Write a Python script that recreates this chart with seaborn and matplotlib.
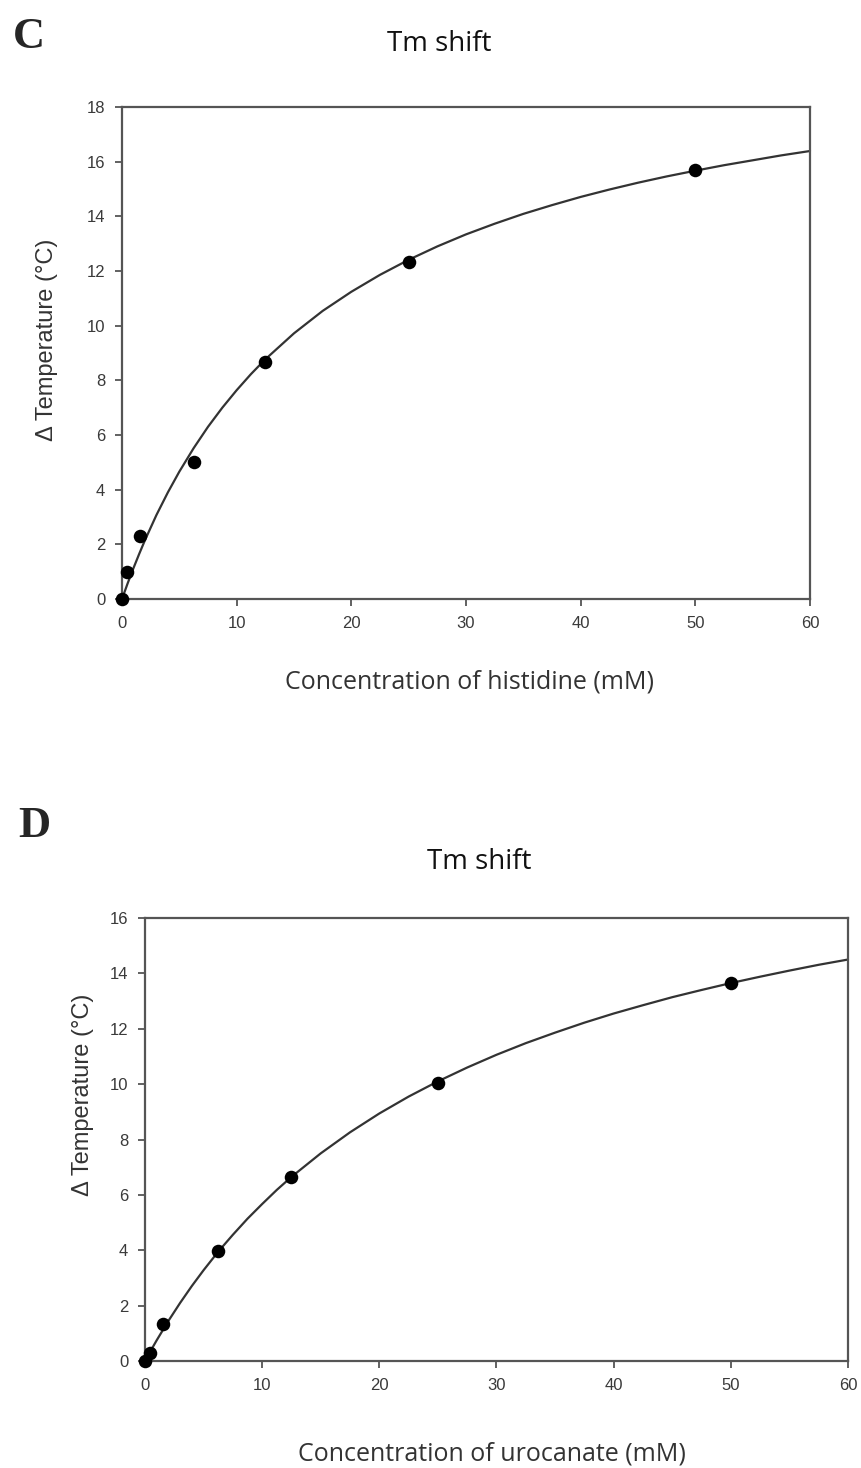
import matplotlib
matplotlib.use("Agg")
import matplotlib.pyplot as plt
import seaborn as sns

# ---------------- data ----------------
conc = [0, 0.4, 1.56, 6.25, 12.5, 25, 50]
dT_histidine = [0, 1.0, 2.3, 5.0, 8.67, 12.33, 15.7]
dT_urocanate = [0, 0.29, 1.34, 3.98, 6.66, 10.03, 13.65]

fit_x = [0, 0.5, 1, 1.5, 2, 3, 4, 5, 6.25, 7.5, 8.75, 10, 11.25, 12.5, 15, 17.5, 20,
         22.5, 25, 27.5, 30, 32.5, 35, 37.5, 40, 42.5, 45, 47.5, 50, 52.5, 55, 57.5, 60]
fit_histidine = [0, 0.58, 1.13, 1.65, 2.15, 3.07, 3.90, 4.66, 5.52, 6.30, 7.00, 7.64, 8.23,
                 8.77, 9.72, 10.54, 11.24, 11.86, 12.41, 12.90, 13.34, 13.73, 14.09, 14.41,
                 14.71, 14.98, 15.23, 15.46, 15.67, 15.87, 16.05, 16.23, 16.39]
fit_urocanate = [0, 0.38, 0.75, 1.10, 1.45, 2.10, 2.71, 3.28, 3.95, 4.56, 5.14, 5.67, 6.18,
                 6.65, 7.50, 8.26, 8.94, 9.55, 10.10, 10.60, 11.06, 11.48, 11.86, 12.22,
                 12.55, 12.85, 13.14, 13.40, 13.65, 13.88, 14.10, 14.31, 14.50]

x_ticks = [0, 10, 20, 30, 40, 50, 60]
yticks_C = [0, 2, 4, 6, 8, 10, 12, 14, 16, 18]
yticks_D = [0, 2, 4, 6, 8, 10, 12, 14, 16]

# ---------------- style ----------------
sns.set_style("white")
plt.rcParams['font.family'] = ['Liberation Sans', 'DejaVu Sans']

fig = plt.figure(figsize=(8.61, 14.68), dpi=100)
W, H = 861, 1468


def make_ax(l, r, t, b):
    return fig.add_axes([l / W, 1 - b / H, (r - l) / W, (b - t) / H])


def style(ax, yticks, ymax):
    ax.set_xlim(0, 60)
    ax.set_ylim(0, ymax)
    ax.set_xticks(x_ticks)
    ax.set_yticks(yticks)
    for s in ax.spines.values():
        s.set_color('#555555')
        s.set_linewidth(1.6)
    ax.tick_params(direction='out', length=5, width=1.3, color='#555555',
                   labelsize=12, labelcolor='#3a3a3a', pad=7,
                   bottom=True, left=True)


panels = [
    dict(box=(122, 810, 107, 599), y=dT_histidine, fit=fit_histidine, yticks=yticks_C, ymax=18,
         letter='C', letter_xy=(29, 37), title_xy=(439, 44),
         xlabel='Concentration of histidine (mM)', xlabel_xy=(470, 682),
         ylabel_xy=(47, 340)),
    dict(box=(145, 848, 918, 1361), y=dT_urocanate, fit=fit_urocanate, yticks=yticks_D, ymax=16,
         letter='D', letter_xy=(34, 826), title_xy=(479, 862),
         xlabel='Concentration of urocanate (mM)', xlabel_xy=(492, 1454),
         ylabel_xy=(83, 1095)),
]

for p in panels:
    ax = make_ax(*p['box'])
    sns.lineplot(x=fit_x, y=p['fit'], ax=ax, color='#333333', linewidth=1.6, clip_on=False)
    sns.scatterplot(x=conc, y=p['y'], ax=ax, color='black', s=95, edgecolor='black',
                    linewidth=0, clip_on=False, zorder=5)
    style(ax, p['yticks'], p['ymax'])
    ax.set_xlabel('')
    ax.set_ylabel('')
    lx, ly = p['letter_xy']
    fig.text(lx / W, 1 - ly / H, p['letter'], fontsize=32, fontweight='bold',
             family=['Liberation Serif'], ha='center', va='center')
    tx, ty = p['title_xy']
    fig.text(tx / W, 1 - ty / H, 'Tm shift', fontsize=20, family=['Open Sans'],
             color='#111111', ha='center', va='center')
    xx, xy = p['xlabel_xy']
    fig.text(xx / W, 1 - xy / H, p['xlabel'], fontsize=18, family=['Open Sans'],
             color='#333333', ha='center', va='center')
    yx, yy = p['ylabel_xy']
    fig.text(yx / W, 1 - yy / H, 'Δ Temperature (°C)', fontsize=17, rotation=90,
             color='#333333', ha='center', va='center')

fig.savefig('out.png', dpi=100, facecolor='white')
